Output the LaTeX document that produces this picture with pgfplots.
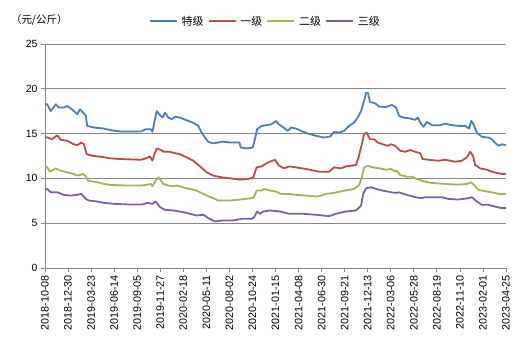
\documentclass[border=0pt]{standalone}
\usepackage{fontspec}
\setmainfont{Liberation Sans}
\newfontfamily\cjk{Noto Sans CJK SC}
\usepackage{pgfplots}
\pgfplotsset{compat=1.18}
\definecolor{cA}{RGB}{74,126,187}
\definecolor{cB}{RGB}{190,75,72}
\definecolor{cC}{RGB}{152,185,84}
\definecolor{cD}{RGB}{125,96,160}
\definecolor{axgray}{RGB}{134,134,134}
\begin{document}
\begin{tikzpicture}
\begin{axis}[
  scale only axis, width=461bp, height=224bp,
  xmin=0, xmax=1660, ymin=0, ymax=25,
  axis lines*=left,
  axis line style={axgray, line width=0.8pt},
  ytick={0,5,...,25},
  xtick={0,83,...,1660},
  xticklabels={2018-10-08,2018-12-30,2019-03-23,2019-06-14,2019-09-05,2019-11-27,2020-02-18,2020-05-11,2020-08-02,2020-10-24,2021-01-15,2021-04-08,2021-06-30,2021-09-21,2021-12-13,2022-03-06,2022-05-28,2022-08-19,2022-11-10,2023-02-01,2023-04-25},
  x tick label style={rotate=90, anchor=east, font=\fontsize{10.8}{12}\selectfont},
  y tick label style={font=\fontsize{10.5}{12}\selectfont},
  /pgf/number format/assume math mode=true,
  tick align=outside, major tick length=4bp,
  tick style={axgray, line width=0.8pt},
  ymajorgrids, grid style={axgray, line width=0.8pt},
  clip=false,
  legend columns=4,
  legend style={draw=none, at={(0.478,1)}, anchor=south, yshift=13bp, font=\cjk\fontsize{11}{12}\selectfont, column sep=2bp},
  legend image code/.code={\draw[#1] plot coordinates {(0bp,0bp) (27bp,0bp)};},
  every axis plot/.append style={line width=1.8pt, line join=round},
]
\addplot[cA] coordinates {(0,18.3) (8,18.26) (21,17.5) (39,18.26) (50,17.9) (68,17.9) (80,18.07) (93,17.8) (104,17.5) (116,17.15) (126,17.7) (138,17.3) (147,17.0) (152,15.85) (176,15.67) (212,15.55) (237,15.37) (273,15.22) (345,15.22) (363,15.48) (381,15.48) (387,15.2) (392,16.0) (402,17.5) (417,16.96) (424,16.8) (432,17.33) (444,16.8) (456,16.6) (468,16.85) (486,16.78) (510,16.48) (534,16.2) (552,15.85) (564,15.1) (576,14.55) (588,14.07) (606,13.9) (624,14.0) (642,14.1) (666,14.0) (700,14.0) (705,13.44) (726,13.33) (748,13.44) (756,14.37) (764,15.48) (780,15.85) (798,15.93) (816,16.04) (832,16.4) (841,16.04) (856,15.74) (874,15.3) (886,15.67) (904,15.55) (922,15.3) (946,15.0) (976,14.74) (1005,14.55) (1027,14.67) (1041,15.18) (1059,15.1) (1077,15.3) (1095,15.85) (1113,16.22) (1126,16.78) (1138,17.5) (1149,18.63) (1156,19.55) (1163,19.55) (1170,18.52) (1189,18.37) (1203,18.0) (1228,17.96) (1249,18.2) (1264,17.9) (1275,16.96) (1291,16.78) (1315,16.67) (1333,16.52) (1343,16.78) (1351,16.22) (1363,15.74) (1375,16.3) (1393,15.93) (1423,15.93) (1441,16.1) (1465,15.93) (1489,15.85) (1513,15.85) (1527,15.55) (1535,16.4) (1543,16.04) (1555,15.1) (1573,14.63) (1597,14.55) (1609,14.37) (1619,14.0) (1633,13.63) (1645,13.8) (1660,13.7)};
\addlegendentry{特级}
\addplot[cB] coordinates {(0,14.6) (8,14.56) (26,14.37) (44,14.8) (57,14.3) (80,14.19) (104,13.8) (116,13.7) (131,14.0) (140,13.8) (150,12.7) (170,12.52) (201,12.4) (237,12.22) (273,12.15) (345,12.07) (363,12.22) (378,12.44) (387,11.96) (392,12.52) (402,13.33) (417,13.18) (428,12.96) (450,12.96) (468,12.8) (486,12.7) (510,12.33) (534,11.96) (558,11.33) (582,10.67) (606,10.3) (636,10.11) (666,10.0) (702,9.85) (732,9.93) (750,10.11) (762,11.22) (780,11.33) (804,11.78) (828,12.07) (843,11.4) (861,11.11) (879,11.33) (904,11.22) (940,11.04) (987,10.74) (1023,10.74) (1041,11.22) (1066,11.11) (1084,11.33) (1120,11.48) (1129,12.33) (1141,13.8) (1149,14.93) (1158,15.1) (1170,14.37) (1185,14.37) (1198,14.0) (1216,13.8) (1234,13.63) (1246,13.8) (1261,13.63) (1267,13.44) (1279,13.07) (1297,12.96) (1315,13.15) (1333,12.96) (1351,12.8) (1360,12.15) (1381,12.07) (1417,11.96) (1441,12.07) (1477,11.85) (1501,11.96) (1519,12.33) (1531,12.96) (1541,12.52) (1549,11.48) (1567,11.11) (1591,10.96) (1609,10.74) (1627,10.6) (1645,10.48) (1660,10.5)};
\addlegendentry{一级}
\addplot[cC] coordinates {(0,11.3) (8,11.22) (18,10.74) (39,11.11) (57,10.85) (80,10.67) (104,10.48) (116,10.3) (138,10.48) (147,10.22) (155,9.74) (189,9.56) (212,9.37) (237,9.26) (296,9.19) (345,9.19) (363,9.26) (381,9.37) (387,9.11) (398,9.74) (410,10.11) (426,9.37) (444,9.19) (462,9.11) (474,9.19) (510,8.89) (546,8.63) (570,8.26) (606,7.78) (624,7.52) (666,7.52) (702,7.63) (744,7.78) (752,7.89) (762,8.63) (780,8.63) (788,8.81) (810,8.63) (832,8.52) (850,8.26) (879,8.26) (904,8.15) (940,8.07) (982,7.96) (1012,8.26) (1041,8.37) (1077,8.63) (1113,8.81) (1131,9.26) (1141,10.11) (1149,11.22) (1162,11.4) (1180,11.22) (1203,11.11) (1228,10.96) (1246,11.04) (1261,10.78) (1267,10.85) (1279,10.37) (1303,10.18) (1321,10.18) (1339,9.93) (1363,9.67) (1393,9.48) (1441,9.37) (1489,9.3) (1519,9.37) (1534,9.56) (1549,9.11) (1561,8.7) (1585,8.56) (1609,8.44) (1633,8.26) (1660,8.26)};
\addlegendentry{二级}
\addplot[cD] coordinates {(0,8.7) (8,8.81) (21,8.44) (44,8.44) (68,8.15) (93,8.07) (116,8.15) (131,8.26) (147,7.7) (158,7.52) (188,7.41) (212,7.26) (248,7.15) (308,7.07) (350,7.07) (368,7.26) (387,7.15) (398,7.41) (410,6.96) (414,6.78) (432,6.48) (462,6.41) (498,6.22) (546,5.85) (570,5.93) (588,5.56) (612,5.19) (642,5.3) (678,5.3) (708,5.48) (744,5.48) (753,5.67) (764,6.3) (774,6.04) (786,6.3) (810,6.41) (846,6.3) (879,6.04) (928,6.04) (976,5.93) (1023,5.78) (1048,6.04) (1084,6.3) (1120,6.41) (1138,6.96) (1146,8.26) (1156,8.89) (1174,9.0) (1192,8.81) (1216,8.63) (1246,8.44) (1264,8.37) (1273,8.44) (1303,8.15) (1333,7.89) (1357,7.78) (1369,7.89) (1429,7.89) (1453,7.7) (1489,7.63) (1525,7.78) (1537,7.89) (1555,7.41) (1573,7.04) (1597,7.04) (1619,6.85) (1645,6.67) (1660,6.67)};
\addlegendentry{三级}
\node[anchor=west, font=\cjk\fontsize{10.5}{12}\selectfont, inner sep=0pt] at (rel axis cs:-0.074,1.107) {（元/公斤）};
\coordinate (bbsw) at (rel axis cs:-0.0976,-0.384);
\coordinate (bbne) at (rel axis cs:1.0434,1.196);
\end{axis}
\path (bbsw) rectangle (bbne);
\end{tikzpicture}
\end{document}
